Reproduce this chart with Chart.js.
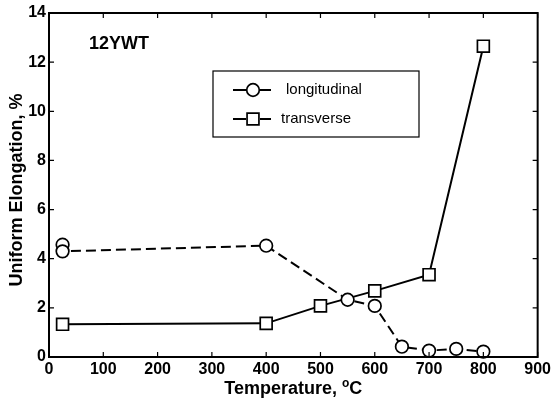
<!DOCTYPE html>
<html lang="en">
<head>
    <meta charset="UTF-8">
    <title>Uniform Elongation vs Temperature</title>
    <style>
        html, body {
            margin: 0;
            padding: 0;
            background: #fff;
        }
        #wrap {
            width: 554px;
            height: 403px;
        }
    </style>
</head>
<body>
    <div id="wrap"><canvas id="chart"></canvas></div>

    <script src="https://cdn.jsdelivr.net/npm/chart.js"></script>
    <script>
        // values
        const longTemp = [25, 25, 400, 550, 600, 650, 700, 750, 800];
        const longElong = [4.57, 4.3, 4.53, 2.33, 2.08, 0.42, 0.26, 0.33, 0.22];
        const transTemp = [25, 400, 500, 600, 700, 800];
        const transElong = [1.33, 1.37, 2.08, 2.69, 3.35, 12.65];
        const xTicks = [0, 100, 200, 300, 400, 500, 600, 700, 800, 900];
        const yTicks = [0, 2, 4, 6, 8, 10, 12, 14];
        const seriesNames = ['longitudinal', 'transverse'];

        const FONT = '"Liberation Sans", Arial, Helvetica, sans-serif';

        function toPoints(xs, ys) {
            return xs.map((x, i) => ({ x: x, y: ys[i] }));
        }

        // frame, inward ticks on all four sides, titles, label and legend box
        const decorations = {
            id: 'decorations',
            afterDraw(chart) {
                const ctx = chart.ctx;
                const area = chart.chartArea;
                const xs = chart.scales.x;
                const ys = chart.scales.y;
                const tick = 5;

                ctx.save();
                ctx.strokeStyle = '#000';
                ctx.lineWidth = 2;
                ctx.strokeRect(area.left, area.top, area.right - area.left, area.bottom - area.top);

                ctx.lineWidth = 1.2;
                ctx.beginPath();
                xTicks.forEach(v => {
                    const px = xs.getPixelForValue(v);
                    ctx.moveTo(px, area.bottom);
                    ctx.lineTo(px, area.bottom - tick);
                    ctx.moveTo(px, area.top);
                    ctx.lineTo(px, area.top + tick);
                });
                yTicks.forEach(v => {
                    const py = ys.getPixelForValue(v);
                    ctx.moveTo(area.left, py);
                    ctx.lineTo(area.left + tick, py);
                    ctx.moveTo(area.right, py);
                    ctx.lineTo(area.right - tick, py);
                });
                ctx.stroke();

                ctx.fillStyle = '#000';
                ctx.textBaseline = 'alphabetic';

                // x title with raised "o"
                const t1 = 'Temperature, ';
                const t3 = 'C';
                ctx.font = 'bold 18px ' + FONT;
                const w1 = ctx.measureText(t1).width;
                const w3 = ctx.measureText(t3).width;
                ctx.font = 'bold 12px ' + FONT;
                const w2 = ctx.measureText('o').width;
                const total = w1 + w2 + w3;
                const cx = (area.left + area.right) / 2 - total / 2;
                const by = 394;
                ctx.textAlign = 'left';
                ctx.font = 'bold 18px ' + FONT;
                ctx.fillText(t1, cx, by);
                ctx.font = 'bold 12px ' + FONT;
                ctx.fillText('o', cx + w1, by - 7);
                ctx.font = 'bold 18px ' + FONT;
                ctx.fillText(t3, cx + w1 + w2, by);

                // y title
                ctx.save();
                ctx.translate(22, 190);
                ctx.rotate(-Math.PI / 2);
                ctx.textAlign = 'center';
                ctx.font = 'bold 18px ' + FONT;
                ctx.fillText('Uniform Elongation, %', 0, 0);
                ctx.restore();

                // specimen label
                ctx.font = 'bold 18px ' + FONT;
                ctx.textAlign = 'left';
                ctx.fillText('12YWT', 89, 49);

                // legend
                const lx = 213, ly = 71, lw = 206, lh = 66;
                ctx.lineWidth = 1.2;
                ctx.strokeRect(lx, ly, lw, lh);
                const rows = [90, 119];
                chart.data.datasets.forEach((ds, i) => {
                    const y = rows[i];
                    ctx.save();
                    ctx.strokeStyle = '#000';
                    ctx.lineWidth = ds.borderWidth;
                    ctx.beginPath();
                    ctx.moveTo(233, y);
                    ctx.lineTo(246, y);
                    ctx.moveTo(260, y);
                    ctx.lineTo(271, y);
                    ctx.stroke();
                    ctx.fillStyle = '#fff';
                    ctx.lineWidth = ds.pointBorderWidth;
                    ctx.beginPath();
                    if (ds.pointStyle === 'circle') {
                        ctx.arc(253, y, ds.pointRadius, 0, Math.PI * 2);
                    } else {
                        const s = ds.pointRadius * Math.SQRT1_2;
                        ctx.rect(253 - s, y - s, 2 * s, 2 * s);
                    }
                    ctx.fill();
                    ctx.stroke();
                    ctx.restore();
                    ctx.font = '15px ' + FONT;
                    ctx.textBaseline = 'middle';
                    ctx.fillStyle = '#000';
                    ctx.fillText(ds.label, i === 0 ? 286 : 281, y);
                });

                ctx.restore();
            }
        };

        const chart = new Chart(document.getElementById('chart'), {
            type: 'scatter',
            data: {
                datasets: [
                    {
                        label: seriesNames[0],
                        data: toPoints(longTemp, longElong),
                        showLine: true,
                        borderColor: '#000',
                        borderWidth: 2,
                        borderDash: [10, 5],
                        pointStyle: 'circle',
                        pointRadius: 6.3,
                        pointBorderWidth: 1.7,
                        pointBackgroundColor: '#fff',
                        pointBorderColor: '#000'
                    },
                    {
                        label: seriesNames[1],
                        data: toPoints(transTemp, transElong),
                        showLine: true,
                        borderColor: '#000',
                        borderWidth: 2,
                        pointStyle: 'rect',
                        pointRadius: 8.4,
                        pointBorderWidth: 1.7,
                        pointBackgroundColor: '#fff',
                        pointBorderColor: '#000'
                    }
                ]
            },
            options: {
                responsive: true,
                maintainAspectRatio: false,
                animation: false,
                clip: false,
                layout: {
                    padding: { left: 0, right: 13, top: 13, bottom: 0 }
                },
                plugins: {
                    legend: { display: false },
                    tooltip: { enabled: false }
                },
                scales: {
                    x: {
                        type: 'linear',
                        min: 0,
                        max: 900,
                        afterBuildTicks: scale => {
                            scale.ticks = xTicks.map(v => ({ value: v }));
                        },
                        afterFit: scale => {
                            scale.height = 46;
                        },
                        grid: { display: false, drawTicks: false },
                        border: { display: false },
                        ticks: {
                            color: '#000',
                            padding: 3,
                            maxRotation: 0,
                            font: { family: FONT, size: 16, weight: 'bold' }
                        }
                    },
                    y: {
                        type: 'linear',
                        min: 0,
                        max: 14,
                        afterBuildTicks: scale => {
                            scale.ticks = yTicks.map(v => ({ value: v }));
                        },
                        afterFit: scale => {
                            scale.width = 49;
                        },
                        grid: { display: false, drawTicks: false },
                        border: { display: false },
                        ticks: {
                            color: '#000',
                            padding: 3,
                            font: { family: FONT, size: 16, weight: 'bold' }
                        }
                    }
                }
            },
            plugins: [decorations]
        });
    </script>
</body>
</html>
